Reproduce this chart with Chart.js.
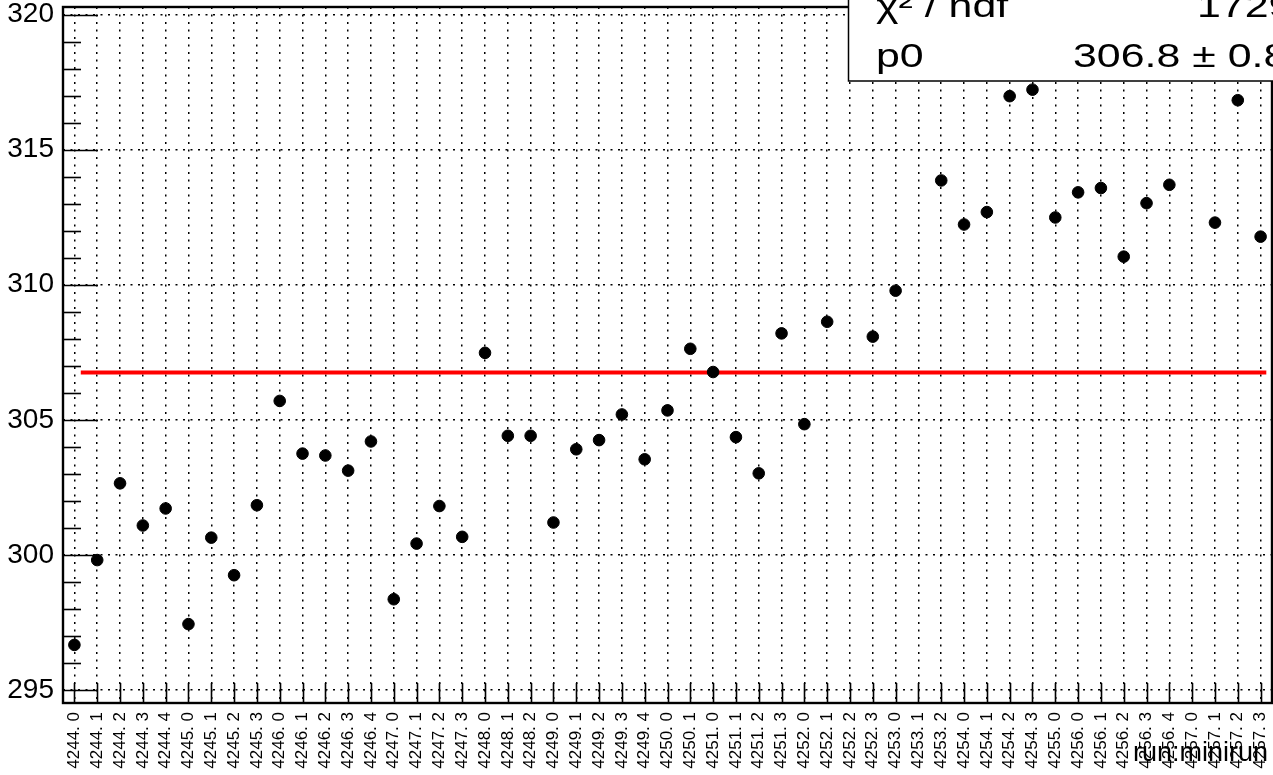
<!DOCTYPE html>
<html>
<head>
<meta charset="utf-8">
<script src="https://cdn.jsdelivr.net/npm/chart.js@4/dist/chart.umd.min.js"></script>
<style>
  html, body { margin: 0; padding: 0; background: #fff; overflow: hidden; }
  #wrap { width: 1273px; height: 775px; position: relative; }
</style>
</head>
<body>
<div id="wrap"><canvas id="c" width="1273" height="775"></canvas></div>
<script>
// ---- data ----
const categories = [
  "4244. 0","4244. 1","4244. 2","4244. 3","4244. 4",
  "4245. 0","4245. 1","4245. 2","4245. 3",
  "4246. 0","4246. 1","4246. 2","4246. 3","4246. 4",
  "4247. 0","4247. 1","4247. 2","4247. 3",
  "4248. 0","4248. 1","4248. 2",
  "4249. 0","4249. 1","4249. 2","4249. 3","4249. 4",
  "4250. 0","4250. 1",
  "4251. 0","4251. 1","4251. 2","4251. 3",
  "4252. 0","4252. 1","4252. 2","4252. 3",
  "4253. 0","4253. 1","4253. 2",
  "4254. 0","4254. 1","4254. 2","4254. 3",
  "4255. 0",
  "4256. 0","4256. 1","4256. 2","4256. 3","4256. 4",
  "4257. 0","4257. 1","4257. 2","4257. 3"
];
const values = [
  296.67, 299.81, 302.65, 301.09, 301.72,
  297.44, 300.64, 299.25, 301.84,
  305.70, 303.75, 303.68, 303.12, 304.20,
  298.36, 300.42, 301.81, 300.67,
  307.48, 304.41, 304.41,
  301.20, 303.91, 304.25, 305.20, 303.54,
  305.35, 307.63,
  306.77, 304.36, 303.02, 308.20,
  304.84, 308.63, null, 308.08,
  309.78, null, 313.86,
  312.23, 312.69, 316.98, 317.22,
  312.49,
  313.42, 313.58, 311.04, 313.02, 313.70,
  null, 312.30, 316.83, 311.78
];
const yTicks = [295, 300, 305, 310, 315, 320];
const yRange = [294.52, 320.28];
const fitP0 = 306.75;
const fitRange = [0.28, 52.25];
const statsRows = [["\u03C7\u00B2 / ndf", "1729 / 49"], ["p0", "306.8 \u00B1 0.8"]];
const xTitle = "run:minirun";

const FONT = "'Liberation Sans', Arial, Helvetica, sans-serif";

const points = [];
values.forEach((v, i) => { if (v !== null) points.push({ x: i, y: v }); });
const fitLine = fitRange.map(x => ({ x: x, y: fitP0 }));

const rootPlugin = {
  id: 'rootStyle',
  beforeDatasetsDraw(chart) {
    const ctx = chart.ctx, a = chart.chartArea;
    const xs = chart.scales.x, ys = chart.scales.y;
    ctx.save();
    ctx.strokeStyle = '#000';
    ctx.lineWidth = 1.6;
    ctx.setLineDash([]);
    yTicks.forEach(v => {
      const y = Math.round(ys.getPixelForValue(v)) + 0.5;
      ctx.beginPath(); ctx.moveTo(a.left, y); ctx.lineTo(a.left + 35, y); ctx.stroke();
    });
    for (let v = Math.ceil(yRange[0]); v <= yRange[1]; v += 1) {
      if (yTicks.includes(v)) continue;
      const y = Math.round(ys.getPixelForValue(v)) + 0.5;
      ctx.beginPath(); ctx.moveTo(a.left, y); ctx.lineTo(a.left + 18, y); ctx.stroke();
    }
    categories.forEach((_, i) => {
      const x = Math.round(xs.getPixelForValue(i)) + 0.5;
      ctx.beginPath(); ctx.moveTo(x, a.bottom); ctx.lineTo(x, a.bottom - 20); ctx.stroke();
    });
    ctx.lineWidth = 2.4;
    ctx.strokeRect(a.left, a.top, a.right - a.left, a.bottom - a.top);
    ctx.restore();
  },
  afterDraw(chart) {
    const ctx = chart.ctx;
    ctx.save();
    ctx.fillStyle = '#000';
    ctx.font = "27px " + FONT;
    ctx.textAlign = 'right';
    ctx.textBaseline = 'alphabetic';
    ctx.fillText(xTitle, 1268, 761);
    ctx.fillStyle = '#fff';
    ctx.fillRect(848, -5, 500, 86);
    ctx.strokeStyle = '#000';
    ctx.lineWidth = 1.5;
    ctx.strokeRect(848.5, -5, 500, 86);
    ctx.fillStyle = '#000';
    ctx.textAlign = 'left';
    ctx.font = "33px " + FONT;
    const baselines = [17, 67];
    const valueX = [1197, 1073];
    statsRows.forEach((row, k) => {
      ctx.save();
      ctx.translate(876, baselines[k]);
      ctx.scale(1.3, 1);
      ctx.fillText(row[0], 0, 0);
      ctx.restore();
      ctx.save();
      ctx.translate(valueX[k], baselines[k]);
      ctx.scale(1.3, 1);
      ctx.fillText(row[1], 0, 0);
      ctx.restore();
    });
    ctx.restore();
  }
};

new Chart(document.getElementById('c'), {
  type: 'scatter',
  data: {
    datasets: [
      {
        label: 'data',
        data: points,
        showLine: false,
        pointRadius: 5.8,
        pointHoverRadius: 5.8,
        pointBackgroundColor: '#000',
        pointBorderColor: '#000',
        pointBorderWidth: 1
      },
      {
        label: 'fit',
        type: 'line',
        data: fitLine,
        borderColor: '#ff0000',
        borderWidth: 4,
        pointRadius: 0,
        fill: false
      }
    ]
  },
  options: {
    responsive: false,
    animation: false,
    events: [],
    layout: { autoPadding: false, padding: { top: 7, right: 1, left: 0, bottom: 0 } },
    plugins: { legend: { display: false }, tooltip: { enabled: false } },
    scales: {
      x: {
        type: 'linear',
        min: -0.5,
        max: categories.length - 0.5,
        afterBuildTicks: s => { s.ticks = categories.map((_, i) => ({ value: i })); },
        afterFit: s => { s.height = 72; s.paddingLeft = 0; s.paddingRight = 0; },
        ticks: {
          autoSkip: false,
          minRotation: 90,
          maxRotation: 90,
          padding: 9,
          color: '#000',
          font: { size: 17, family: FONT },
          callback: v => categories[v]
        },
        grid: { color: '#000', lineWidth: 1.5, drawTicks: false },
        border: { display: false, dash: [2, 5.5] }
      },
      y: {
        type: 'linear',
        min: yRange[0],
        max: yRange[1],
        afterBuildTicks: s => { s.ticks = yTicks.map(v => ({ value: v })); },
        afterFit: s => { s.width = 63; s.paddingTop = 0; s.paddingBottom = 0; },
        ticks: {
          padding: 9,
          color: '#000',
          font: { size: 28, family: FONT },
          callback: v => String(v)
        },
        grid: { color: '#000', lineWidth: 1.5, drawTicks: false },
        border: { display: false, dash: [2, 5.5] }
      }
    }
  },
  plugins: [rootPlugin]
});
</script>
</body>
</html>
